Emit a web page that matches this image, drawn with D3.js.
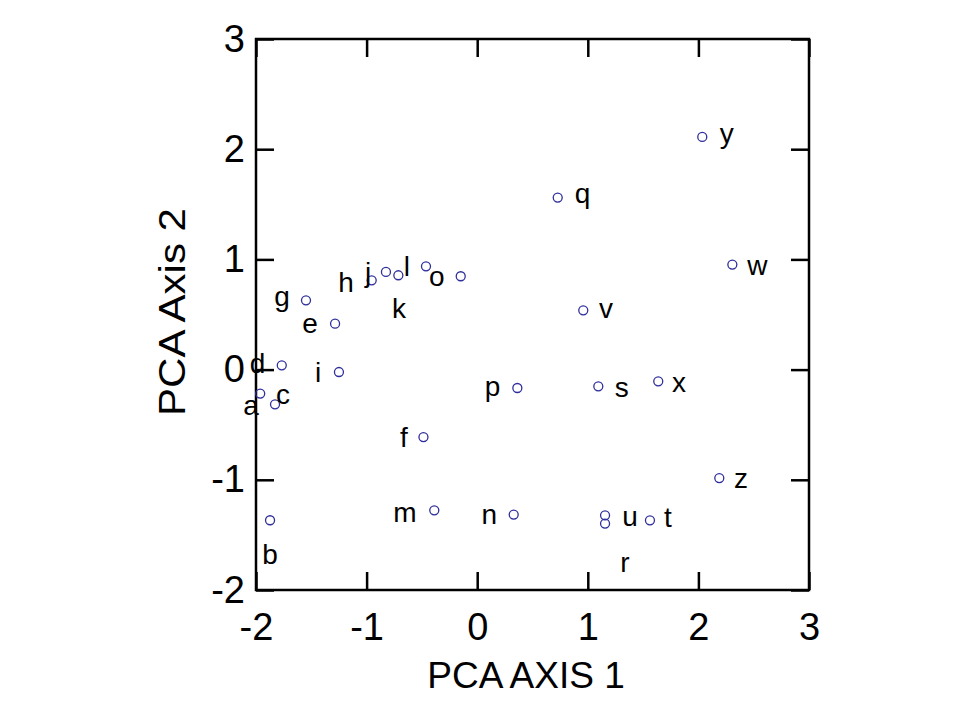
<!DOCTYPE html>
<html>
<head>
<meta charset="utf-8">
<script src="https://cdn.jsdelivr.net/npm/d3@7"></script>
<style>
  html, body { margin: 0; padding: 0; background: #fff; }
  svg { display: block; }
  text { font-family: "Liberation Sans", Arial, sans-serif; }
</style>
</head>
<body>
<svg id="chart" width="960" height="720"></svg>
<script>
// ---- data ----
const names  = ["a","b","c","d","e","f","g","h","i","j","k","l","m","n","o","p","q","r","s","t","u","v","w","x","y","z"];
const axis1  = [-1.962,-1.873,-1.828,-1.767,-1.285,-0.486,-1.548,-0.954,-1.250,-0.825,-0.713,-0.463,-0.388,0.330,-0.149,0.363,0.728,1.156,1.095,1.562,1.156,0.959,2.307,1.637,2.035,2.189];
const axis2  = [-0.218,-1.367,-0.315,0.039,0.417,-0.612,0.629,0.810,-0.022,0.886,0.856,0.937,-1.277,-1.316,0.847,-0.167,1.561,-1.397,-0.152,-1.368,-1.322,0.538,0.953,-0.106,2.111,-0.984];
// label anchor positions (data units, centre / baseline) as placed in the original figure
const labelX = [-2.045,-1.873,-1.756,-1.986,-1.512,-0.662,-1.765,-1.186,-1.439,-0.987,-0.707,-0.635,-0.653,0.109,-0.366,0.138,0.952,1.336,1.307,1.725,1.382,1.165,2.534,1.825,2.256,2.385];
const labelY = [-0.415,-1.760,-0.315,-0.034,0.329,-0.705,0.574,0.704,-0.113,0.792,0.466,0.847,-1.383,-1.397,0.756,-0.242,1.509,-1.837,-0.249,-1.428,-1.422,0.466,0.856,-0.203,2.054,-1.077];
const xTicks = [-2,-1,0,1,2,3];
const yTicks = [-2,-1,0,1,2,3];
const xTitle = "PCA AXIS 1";
const yTitle = "PCA Axis 2";

// ---- layout ----
const svg = d3.select("#chart");
const pLeft = 256, pRight = 809, pTop = 39, pBottom = 590;
const x = d3.scaleLinear().domain([-2, 3]).range([pLeft, pRight]);
const y = d3.scaleLinear().domain([-2, 3]).range([pBottom, pTop]);
const fmt = d => String(d);

const gb = svg.append("g").attr("transform", `translate(0,${pBottom})`)
  .call(d3.axisBottom(x).tickValues(xTicks).tickFormat(fmt).tickSizeInner(-18).tickSizeOuter(0).tickPadding(23));
const gl = svg.append("g").attr("transform", `translate(${pLeft},0)`)
  .call(d3.axisLeft(y).tickValues(yTicks).tickFormat(fmt).tickSizeInner(-18).tickSizeOuter(0).tickPadding(11));
const gt = svg.append("g").attr("transform", `translate(0,${pTop})`)
  .call(d3.axisTop(x).tickValues(xTicks).tickFormat("").tickSizeInner(-18).tickSizeOuter(0));
const gr = svg.append("g").attr("transform", `translate(${pRight},0)`)
  .call(d3.axisRight(y).tickValues(yTicks).tickFormat("").tickSizeInner(-18).tickSizeOuter(0));

[gb, gl, gt, gr].forEach(g => {
  g.select(".domain").remove();
  g.selectAll(".tick line").attr("stroke", "#000").attr("stroke-width", 2.5);
  g.selectAll(".tick text").attr("fill", "#000").attr("font-size", 38)
    .attr("font-family", "'Liberation Sans', Arial, sans-serif");
});

svg.append("rect")
  .attr("x", pLeft).attr("y", pTop)
  .attr("width", pRight - pLeft).attr("height", pBottom - pTop)
  .attr("fill", "none").attr("stroke", "#000").attr("stroke-width", 2.5);

const data = names.map((n, i) => ({ n, a: axis1[i], b: axis2[i], lx: labelX[i], ly: labelY[i] }));
svg.append("g").selectAll("circle").data(data).join("circle")
  .attr("cx", d => x(d.a)).attr("cy", d => y(d.b)).attr("r", 4.5)
  .attr("fill", "none").attr("stroke", "#2e2e9c").attr("stroke-width", 1.3);

svg.append("g").selectAll("text").data(data).join("text")
  .attr("x", d => x(d.lx)).attr("y", d => y(d.ly))
  .attr("text-anchor", "middle").attr("font-size", 28).attr("fill", "#000")
  .text(d => d.n);

svg.append("text")
  .attr("x", 526).attr("y", 688)
  .attr("text-anchor", "middle").attr("font-size", 37).attr("fill", "#000")
  .text(xTitle);

svg.append("text")
  .attr("transform", "translate(185,312) rotate(-90)")
  .attr("text-anchor", "middle").attr("font-size", 36).attr("fill", "#000")
  .attr("textLength", 208).attr("lengthAdjust", "spacingAndGlyphs")
  .text(yTitle);
</script>
</body>
</html>
